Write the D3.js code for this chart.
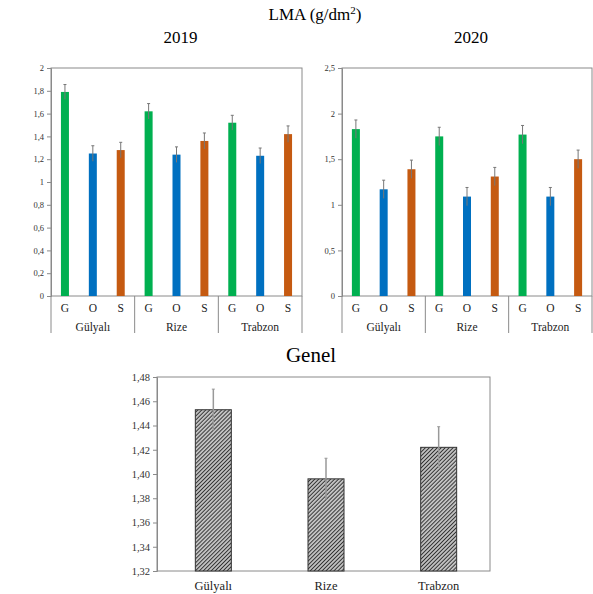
<!DOCTYPE html>
<html>
<head>
<meta charset="utf-8">
<script src="https://cdn.jsdelivr.net/npm/d3@7"></script>
<style>
  body { margin: 0; background: #fff; }
  svg, svg text { font-family: "Liberation Serif", "DejaVu Serif", serif !important; }
</style>
</head>
<body>
<svg id="chart" width="593" height="594"></svg>
<script>
// sites, treatments and values
var sites = ["Gülyalı", "Rize", "Trabzon"]
var treatments = ["G", "O", "S"]
var colors = ["#00b050", "#0070c0", "#c55a11"]

// 2019, order: site x treatment
var lma2019 = [1.79, 1.25, 1.28, 1.62, 1.24, 1.36, 1.52, 1.23, 1.42]
var err2019 = [0.065, 0.068, 0.068, 0.068, 0.068, 0.07, 0.065, 0.068, 0.072]
var ticks2019 = [0, 0.2, 0.4, 0.6, 0.8, 1, 1.2, 1.4, 1.6, 1.8, 2]

// 2020
var lma2020 = [1.83, 1.17, 1.39, 1.75, 1.09, 1.31, 1.77, 1.09, 1.50]
var err2020 = [0.10, 0.10, 0.10, 0.10, 0.10, 0.10, 0.10, 0.10, 0.10]
var ticks2020 = [0, 0.5, 1, 1.5, 2, 2.5]

// overall (Genel)
var lmaGenel = [1.453, 1.396, 1.422]
var errGenel = [0.017, 0.017, 0.017]
var ticksGenel = [1.32, 1.34, 1.36, 1.38, 1.40, 1.42, 1.44, 1.46, 1.48]

var svg = d3.select("#chart")
var comma = d => String(d).replace(".", ",")

svg.append("text")
    .attr("x", 315).attr("y", 20)
    .attr("text-anchor", "middle")
    .style("font-size", "17px")
    .html("LMA (g/dm<tspan dy='-6' style='font-size:11px'>2</tspan><tspan dy='6'>)</tspan>")

function yearPanel(title, values, errs, ticks, box) {
    var g = svg.append("g")
    var cats = []
    sites.forEach(s => treatments.forEach(t => cats.push(s + "|" + t)))
    var data = cats.map((c, i) => ({key: c, site: c.split("|")[0], t: c.split("|")[1], i: i, v: values[i], e: errs[i]}))

    var x = d3.scaleBand().domain(cats).range([box.left, box.right])
    var y = d3.scaleLinear().domain([0, ticks[ticks.length - 1]]).range([box.bottom, box.top])

    g.append("text")
        .attr("x", (box.left + box.right) / 2 + 4).attr("y", 43)
        .attr("text-anchor", "middle")
        .style("font-size", "17px")
        .text(title)

    // frame
    g.append("rect")
        .attr("x", box.left).attr("y", box.top)
        .attr("width", box.right - box.left).attr("height", box.bottom - box.top)
        .attr("fill", "none").attr("stroke", "#8a8a8a").attr("stroke-width", 1)

    var yAxis = g.append("g")
        .attr("transform", `translate(${box.left},0)`)
        .call(d3.axisLeft(y).tickValues(ticks).tickSize(4).tickFormat(comma))
    yAxis.attr("font-family", null)
    yAxis.select(".domain").attr("stroke", "#8a8a8a")
    yAxis.selectAll("line").attr("stroke", "#8a8a8a")
    yAxis.selectAll("text").attr("fill", "#333").style("font-size", "8.5px")

    g.selectAll("rect.bar")
        .data(data)
        .enter()
        .append("rect")
        .attr("class", "bar")
        .attr("x", d => x(d.key) + x.bandwidth() / 2 - 4)
        .attr("width", 8)
        .attr("y", d => y(d.v))
        .attr("height", d => y(0) - y(d.v))
        .attr("fill", d => colors[treatments.indexOf(d.t)])

    // error bars
    g.selectAll("line.err")
        .data(data)
        .enter()
        .append("line")
        .attr("x1", d => x(d.key) + x.bandwidth() / 2)
        .attr("x2", d => x(d.key) + x.bandwidth() / 2)
        .attr("y1", d => y(d.v - d.e))
        .attr("y2", d => y(d.v + d.e))
        .attr("stroke", "#777").attr("stroke-width", 1)
    g.selectAll("line.cap")
        .data(data)
        .enter()
        .append("line")
        .attr("x1", d => x(d.key) + x.bandwidth() / 2 - 1.5)
        .attr("x2", d => x(d.key) + x.bandwidth() / 2 + 1.5)
        .attr("y1", d => y(d.v + d.e))
        .attr("y2", d => y(d.v + d.e))
        .attr("stroke", "#777").attr("stroke-width", 1)

    // category labels
    g.selectAll("text.tr")
        .data(data)
        .enter()
        .append("text")
        .attr("x", d => x(d.key) + x.bandwidth() / 2)
        .attr("y", box.bottom + 16)
        .attr("text-anchor", "middle")
        .style("font-size", "11.5px")
        .attr("fill", "#222")
        .text(d => d.t)

    sites.forEach(function(s, j) {
        var x0 = x(s + "|" + treatments[0])
        var x1 = x(s + "|" + treatments[2]) + x.bandwidth()
        g.append("text")
            .attr("x", (x0 + x1) / 2)
            .attr("y", box.bottom + 35)
            .attr("text-anchor", "middle")
            .style("font-size", "11.5px")
            .attr("fill", "#222")
            .text(s)
        g.append("line")
            .attr("x1", x0).attr("x2", x0)
            .attr("y1", box.bottom).attr("y2", box.bottom + 37)
            .attr("stroke", "#8a8a8a")
        if (j == sites.length - 1) {
            g.append("line")
                .attr("x1", x1).attr("x2", x1)
                .attr("y1", box.bottom).attr("y2", box.bottom + 37)
                .attr("stroke", "#8a8a8a")
        }
    })
}

yearPanel("2019", lma2019, err2019, ticks2019, {left: 51, right: 302, top: 68, bottom: 296})
yearPanel("2020", lma2020, err2020, ticks2020, {left: 342, right: 592, top: 68, bottom: 296})

// Genel panel
var gbox = {left: 157, right: 490, top: 377, bottom: 571}
var defs = svg.append("defs")
var pat = defs.append("pattern")
    .attr("id", "hatch")
    .attr("patternUnits", "userSpaceOnUse")
    .attr("width", 2.8).attr("height", 2.8)
    .attr("patternTransform", "rotate(45)")
pat.append("rect").attr("width", 2.8).attr("height", 2.8).attr("fill", "#fff")
pat.append("line").attr("x1", 1.4).attr("y1", 0).attr("x2", 1.4).attr("y2", 2.8)
    .attr("stroke", "#333").attr("stroke-width", 1.5)

var gg = svg.append("g")
gg.append("text")
    .attr("x", 311).attr("y", 362)
    .attr("text-anchor", "middle")
    .style("font-size", "21px")
    .text("Genel")

var xg = d3.scaleBand().domain(sites).range([gbox.left, gbox.right + 5])
var yg = d3.scaleLinear().domain([1.32, 1.48]).range([gbox.bottom, gbox.top])

gg.append("rect")
    .attr("x", gbox.left).attr("y", gbox.top)
    .attr("width", gbox.right - gbox.left).attr("height", gbox.bottom - gbox.top)
    .attr("fill", "none").attr("stroke", "#8a8a8a")

var yAxisG = gg.append("g")
    .attr("transform", `translate(${gbox.left},0)`)
    .call(d3.axisLeft(yg).tickValues(ticksGenel).tickSize(4).tickFormat(d => d3.format(".2f")(d).replace(".", ",")))
yAxisG.attr("font-family", null)
yAxisG.select(".domain").attr("stroke", "#8a8a8a")
yAxisG.selectAll("line").attr("stroke", "#8a8a8a")
yAxisG.selectAll("text").attr("fill", "#333").style("font-size", "10.5px")

var gdata = sites.map((s, i) => ({site: s, v: lmaGenel[i], e: errGenel[i]}))

gg.selectAll("rect.bar")
    .data(gdata)
    .enter()
    .append("rect")
    .attr("x", d => xg(d.site) + xg.bandwidth() / 2 - 18)
    .attr("width", 36)
    .attr("y", d => yg(d.v))
    .attr("height", d => yg(1.32) - yg(d.v))
    .attr("fill", "url(#hatch)")
    .attr("stroke", "#333").attr("stroke-width", 1)

gg.selectAll("line.err")
    .data(gdata)
    .enter()
    .append("line")
    .attr("x1", d => xg(d.site) + xg.bandwidth() / 2)
    .attr("x2", d => xg(d.site) + xg.bandwidth() / 2)
    .attr("y1", d => yg(d.v - d.e))
    .attr("y2", d => yg(d.v + d.e))
    .attr("stroke", "#999").attr("stroke-width", 1.5)
gg.selectAll("line.cap")
    .data(gdata)
    .enter()
    .append("line")
    .attr("x1", d => xg(d.site) + xg.bandwidth() / 2 - 1.5)
    .attr("x2", d => xg(d.site) + xg.bandwidth() / 2 + 1.5)
    .attr("y1", d => yg(d.v + d.e))
    .attr("y2", d => yg(d.v + d.e))
    .attr("stroke", "#999")

gg.selectAll("text.site")
    .data(gdata)
    .enter()
    .append("text")
    .attr("x", d => xg(d.site) + xg.bandwidth() / 2)
    .attr("y", gbox.bottom + 19)
    .attr("text-anchor", "middle")
    .style("font-size", "12.5px")
    .attr("fill", "#222")
    .text(d => d.site)
</script>
</body>
</html>
